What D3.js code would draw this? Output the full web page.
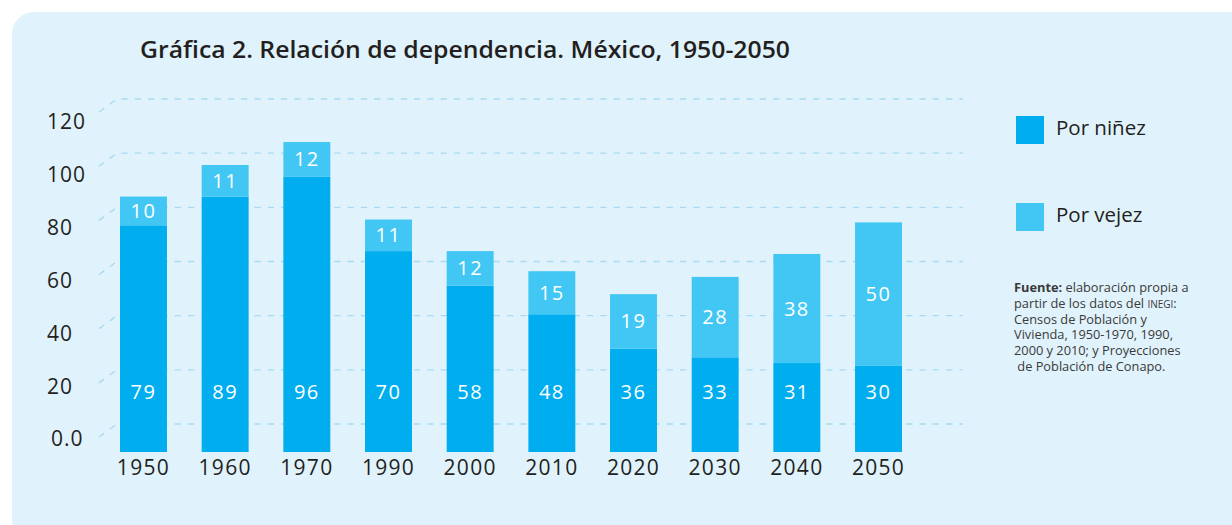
<!DOCTYPE html>
<html>
<head>
<meta charset="utf-8">
<script src="https://cdn.jsdelivr.net/npm/d3@7"></script>
<style>
  html, body { margin: 0; padding: 0; background: #ffffff; }
  svg { display: block; font-family: 'Open Sans', sans-serif; }
</style>
</head>
<body>
<div id="chart"></div>
<script>
// data
const years = ["1950", "1960", "1970", "1990", "2000", "2010", "2020", "2030", "2040", "2050"];
const ninez = [79, 89, 96, 70, 58, 48, 36, 33, 31, 30];
const vejez = [10, 11, 12, 11, 12, 15, 19, 28, 38, 50];
const yTicks = [0, 20, 40, 60, 80, 100, 120];
const yTickLabels = ["0.0", "20", "40", "60", "80", "100", "120"];
const seriesNames = ["Por niñez", "Por vejez"];

const colors = { ninez: "#00aeef", vejez: "#42c7f4", grid: "#a8dbf3", text: "#231f20" };

const width = 1232, height = 525;

const svg = d3.select("#chart").append("svg")
  .attr("width", width)
  .attr("height", height);

// panel background
svg.append("rect")
  .attr("x", 12).attr("y", 12)
  .attr("width", 1250).attr("height", 540)
  .attr("rx", 22).attr("ry", 22)
  .attr("fill", "#e0f2fb");

// title
svg.append("text")
  .attr("x", 140).attr("y", 58)
  .attr("font-size", 23.5)
  .attr("font-weight", 600)
  .attr("fill", colors.text)
  .attr("textLength", 650)
  .attr("lengthAdjust", "spacingAndGlyphs")
  .text("Gráfica 2. Relación de dependencia. México, 1950-2050");

// scales
const x = d3.scaleBand()
  .domain(years)
  .range([102.65, 919.35])
  .paddingInner(0.425)
  .paddingOuter(0.2125);

// bars on the front plane
const yBar = d3.scaleLinear().domain([0, 120]).range([452, 107.6]);
// gridlines on the back wall (3D look)
const yWall = d3.scaleLinear().domain([0, 120]).range([424, 99]);
// tick labels
const yLab = d3.scaleLinear().domain([0, 120]).range([439, 122]);

// gridlines with the little diagonal at the left
svg.append("g")
  .selectAll("path")
  .data(yTicks)
  .join("path")
  .attr("d", d => `M99,${yWall(d) + 13}L117,${yWall(d)}L963,${yWall(d)}`)
  .attr("fill", "none")
  .attr("stroke", colors.grid)
  .attr("stroke-width", 1.4)
  .attr("stroke-dasharray", "6.3,7");

// y labels
svg.append("g")
  .selectAll("text")
  .data(yTicks)
  .join("text")
  .attr("x", (d, i) => yTickLabels[i] === "0.0" ? 51 : 47)
  .attr("y", d => yLab(d))
  .attr("dy", "0.35em")
  .attr("font-size", 21)
  .attr("letter-spacing", 1)
  .attr("fill", colors.text)
  .text((d, i) => yTickLabels[i]);

const rows = years.map((y, i) => ({ year: y, a: ninez[i], b: vejez[i] }));

// por niñez
svg.append("g")
  .selectAll("rect")
  .data(rows)
  .join("rect")
  .attr("x", d => x(d.year))
  .attr("width", x.bandwidth())
  .attr("y", d => yBar(d.a))
  .attr("height", d => yBar(0) - yBar(d.a))
  .attr("fill", colors.ninez);

// por vejez
svg.append("g")
  .selectAll("rect")
  .data(rows)
  .join("rect")
  .attr("x", d => x(d.year))
  .attr("width", x.bandwidth())
  .attr("y", d => yBar(d.a + d.b))
  .attr("height", d => yBar(d.a) - yBar(d.a + d.b))
  .attr("fill", colors.vejez);

// value labels
svg.append("g")
  .selectAll("text")
  .data(rows)
  .join("text")
  .attr("x", d => x(d.year) + x.bandwidth() / 2)
  .attr("y", yBar(21))
  .attr("dy", "0.35em")
  .attr("text-anchor", "middle")
  .attr("font-size", 20)
  .attr("letter-spacing", 1.5)
  .attr("fill", "#ffffff")
  .text(d => d.a);

svg.append("g")
  .selectAll("text")
  .data(rows)
  .join("text")
  .attr("x", d => x(d.year) + x.bandwidth() / 2)
  .attr("y", d => (yBar(d.a) + yBar(d.a + d.b)) / 2)
  .attr("dy", "0.35em")
  .attr("text-anchor", "middle")
  .attr("font-size", 20)
  .attr("letter-spacing", 1.5)
  .attr("fill", "#ffffff")
  .text(d => d.b);

// x labels
svg.append("g")
  .selectAll("text")
  .data(years)
  .join("text")
  .attr("x", d => x(d) + x.bandwidth() / 2)
  .attr("y", 468)
  .attr("dy", "0.35em")
  .attr("text-anchor", "middle")
  .attr("font-size", 21)
  .attr("letter-spacing", 1.3)
  .attr("fill", colors.text)
  .text(d => d);

// legend
const legend = svg.append("g")
  .selectAll("g")
  .data(seriesNames)
  .join("g")
  .attr("transform", (d, i) => `translate(1016,${116 + i * 87})`);

legend.append("rect")
  .attr("width", 28).attr("height", 28)
  .attr("fill", (d, i) => i === 0 ? colors.ninez : colors.vejez);

legend.append("text")
  .attr("x", 40).attr("y", 12)
  .attr("dy", "0.35em")
  .attr("font-size", 20.5)
  .attr("fill", colors.text)
  .text(d => d);

// source note
const src = svg.append("text")
  .attr("x", 1014)
  .attr("y", 292)
  .attr("font-size", 12.8)
  .attr("fill", "#3a3a3a");

const srcLines = [
  [["Fuente: ", 700], ["elaboración propia a", 400]],
  [["partir de los datos del ", 400], ["INEGI", 400, true], [":", 400]],
  [["Censos de Población y", 400]],
  [["Vivienda, 1950-1970, 1990,", 400]],
  [["2000 y 2010; y Proyecciones", 400]],
  [[" de Población de Conapo.", 400]]
];

srcLines.forEach((parts, i) => {
  parts.forEach((p, j) => {
    const t = src.append("tspan")
      .attr("font-weight", p[1])
      .attr("font-size", p[2] ? 10 : null)
      .text(p[0]);
    if (j === 0) t.attr("x", 1014).attr("dy", i === 0 ? 0 : 15.8);
    if (p[0].startsWith(" ")) t.attr("xml:space", "preserve");
  });
});
</script>
</body>
</html>
